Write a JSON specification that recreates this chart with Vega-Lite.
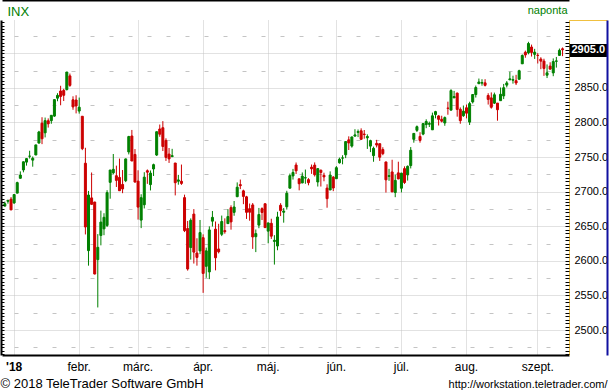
{
  "$schema": "https://vega.github.io/schema/vega-lite/v6.json",
  "width": 567,
  "height": 335,
  "autosize": {"type": "none"},
  "padding": {"left": 2, "top": 20, "right": 41, "bottom": 35},
  "background": "#ffffff",
  "config": {"view": {"stroke": null}, "font": "Liberation Sans", "axis": {"labelFont": "Liberation Sans", "titleFont": "Liberation Sans"}},
  "data": {"values": [
    {"d":"2017-12-27","o":2679.09,"h":2685.64,"l":2678.91,"c":2682.62},
    {"d":"2017-12-28","o":2686.10,"h":2687.66,"l":2682.69,"c":2687.54},
    {"d":"2017-12-29","o":2689.15,"h":2692.12,"l":2673.61,"c":2673.61},
    {"d":"2018-01-02","o":2683.73,"h":2695.89,"l":2682.36,"c":2695.81},
    {"d":"2018-01-03","o":2697.85,"h":2714.37,"l":2697.77,"c":2713.06},
    {"d":"2018-01-04","o":2719.31,"h":2729.29,"l":2719.07,"c":2723.99},
    {"d":"2018-01-05","o":2731.33,"h":2743.45,"l":2727.92,"c":2743.15},
    {"d":"2018-01-08","o":2742.67,"h":2748.51,"l":2737.60,"c":2747.71},
    {"d":"2018-01-09","o":2751.15,"h":2759.14,"l":2747.86,"c":2751.29},
    {"d":"2018-01-10","o":2745.55,"h":2750.80,"l":2736.06,"c":2748.23},
    {"d":"2018-01-11","o":2752.97,"h":2767.56,"l":2752.78,"c":2767.56},
    {"d":"2018-01-12","o":2770.18,"h":2787.85,"l":2769.64,"c":2786.24},
    {"d":"2018-01-16","o":2798.96,"h":2807.54,"l":2768.64,"c":2776.42},
    {"d":"2018-01-17","o":2784.99,"h":2807.04,"l":2778.38,"c":2802.56},
    {"d":"2018-01-18","o":2802.40,"h":2805.83,"l":2792.56,"c":2798.03},
    {"d":"2018-01-19","o":2802.60,"h":2810.33,"l":2798.08,"c":2810.30},
    {"d":"2018-01-22","o":2809.16,"h":2833.03,"l":2808.12,"c":2832.97},
    {"d":"2018-01-23","o":2835.05,"h":2842.24,"l":2830.59,"c":2839.13},
    {"d":"2018-01-24","o":2845.42,"h":2852.97,"l":2824.81,"c":2837.54},
    {"d":"2018-01-25","o":2846.24,"h":2848.56,"l":2830.94,"c":2839.25},
    {"d":"2018-01-26","o":2847.48,"h":2872.87,"l":2846.18,"c":2872.87},
    {"d":"2018-01-29","o":2867.23,"h":2870.62,"l":2851.48,"c":2853.53},
    {"d":"2018-01-30","o":2832.74,"h":2837.75,"l":2818.27,"c":2822.43},
    {"d":"2018-01-31","o":2832.41,"h":2839.26,"l":2813.04,"c":2823.81},
    {"d":"2018-02-01","o":2816.45,"h":2835.96,"l":2812.70,"c":2821.98},
    {"d":"2018-02-02","o":2808.92,"h":2808.92,"l":2759.97,"c":2762.13},
    {"d":"2018-02-05","o":2741.06,"h":2763.39,"l":2638.17,"c":2648.94},
    {"d":"2018-02-06","o":2614.78,"h":2701.04,"l":2593.07,"c":2695.14},
    {"d":"2018-02-07","o":2690.95,"h":2727.67,"l":2681.33,"c":2681.66},
    {"d":"2018-02-08","o":2685.01,"h":2685.27,"l":2580.56,"c":2581.00},
    {"d":"2018-02-09","o":2601.78,"h":2638.67,"l":2532.69,"c":2619.55},
    {"d":"2018-02-12","o":2636.75,"h":2672.61,"l":2622.45,"c":2656.00},
    {"d":"2018-02-13","o":2646.27,"h":2668.84,"l":2637.08,"c":2662.94},
    {"d":"2018-02-14","o":2651.21,"h":2702.10,"l":2648.87,"c":2698.63},
    {"d":"2018-02-15","o":2713.46,"h":2731.51,"l":2689.82,"c":2731.20},
    {"d":"2018-02-16","o":2727.14,"h":2754.42,"l":2725.11,"c":2732.22},
    {"d":"2018-02-20","o":2722.99,"h":2737.60,"l":2706.76,"c":2716.26},
    {"d":"2018-02-21","o":2720.53,"h":2747.75,"l":2701.29,"c":2701.33},
    {"d":"2018-02-22","o":2710.42,"h":2731.26,"l":2697.77,"c":2703.96},
    {"d":"2018-02-23","o":2715.80,"h":2747.76,"l":2713.74,"c":2747.30},
    {"d":"2018-02-26","o":2757.37,"h":2780.64,"l":2753.78,"c":2779.60},
    {"d":"2018-02-27","o":2780.45,"h":2789.15,"l":2744.22,"c":2744.28},
    {"d":"2018-02-28","o":2753.78,"h":2761.52,"l":2713.54,"c":2713.83},
    {"d":"2018-03-01","o":2715.22,"h":2730.89,"l":2659.65,"c":2677.67},
    {"d":"2018-03-02","o":2658.89,"h":2696.25,"l":2647.32,"c":2691.25},
    {"d":"2018-03-05","o":2681.06,"h":2728.09,"l":2675.75,"c":2720.94},
    {"d":"2018-03-06","o":2730.18,"h":2732.08,"l":2711.26,"c":2728.12},
    {"d":"2018-03-07","o":2710.18,"h":2730.60,"l":2701.74,"c":2726.80},
    {"d":"2018-03-08","o":2732.75,"h":2740.45,"l":2722.65,"c":2738.97},
    {"d":"2018-03-09","o":2752.91,"h":2786.57,"l":2751.54,"c":2786.57},
    {"d":"2018-03-12","o":2790.54,"h":2796.98,"l":2779.26,"c":2783.02},
    {"d":"2018-03-13","o":2792.31,"h":2801.90,"l":2758.68,"c":2765.31},
    {"d":"2018-03-14","o":2774.06,"h":2777.11,"l":2744.38,"c":2749.48},
    {"d":"2018-03-15","o":2754.27,"h":2763.03,"l":2741.47,"c":2747.33},
    {"d":"2018-03-16","o":2750.57,"h":2761.85,"l":2749.97,"c":2752.01},
    {"d":"2018-03-19","o":2741.38,"h":2741.38,"l":2694.59,"c":2712.92},
    {"d":"2018-03-20","o":2715.05,"h":2724.22,"l":2710.05,"c":2716.94},
    {"d":"2018-03-21","o":2714.99,"h":2739.14,"l":2709.79,"c":2711.93},
    {"d":"2018-03-22","o":2691.36,"h":2695.68,"l":2641.59,"c":2643.69},
    {"d":"2018-03-23","o":2646.71,"h":2657.67,"l":2585.89,"c":2588.26},
    {"d":"2018-03-26","o":2619.35,"h":2661.36,"l":2601.81,"c":2658.55},
    {"d":"2018-03-27","o":2667.57,"h":2674.78,"l":2596.12,"c":2612.62},
    {"d":"2018-03-28","o":2611.30,"h":2632.65,"l":2593.06,"c":2605.00},
    {"d":"2018-03-29","o":2614.41,"h":2659.07,"l":2609.72,"c":2640.87},
    {"d":"2018-04-02","o":2633.45,"h":2638.30,"l":2553.80,"c":2581.88},
    {"d":"2018-04-03","o":2592.17,"h":2619.14,"l":2575.49,"c":2614.45},
    {"d":"2018-04-04","o":2584.04,"h":2649.86,"l":2573.61,"c":2644.69},
    {"d":"2018-04-05","o":2657.36,"h":2672.08,"l":2649.58,"c":2662.84},
    {"d":"2018-04-06","o":2645.82,"h":2656.88,"l":2586.27,"c":2604.47},
    {"d":"2018-04-09","o":2617.18,"h":2653.55,"l":2610.79,"c":2613.16},
    {"d":"2018-04-10","o":2638.41,"h":2665.45,"l":2635.78,"c":2656.87},
    {"d":"2018-04-11","o":2643.69,"h":2661.43,"l":2639.25,"c":2642.19},
    {"d":"2018-04-12","o":2653.83,"h":2674.72,"l":2653.83,"c":2663.99},
    {"d":"2018-04-13","o":2676.90,"h":2680.26,"l":2645.05,"c":2656.30},
    {"d":"2018-04-16","o":2670.10,"h":2686.49,"l":2665.16,"c":2677.84},
    {"d":"2018-04-17","o":2692.74,"h":2713.34,"l":2692.05,"c":2706.39},
    {"d":"2018-04-18","o":2710.11,"h":2717.49,"l":2703.63,"c":2708.64},
    {"d":"2018-04-19","o":2701.16,"h":2702.84,"l":2681.90,"c":2693.13},
    {"d":"2018-04-20","o":2692.56,"h":2693.94,"l":2660.61,"c":2670.14},
    {"d":"2018-04-23","o":2675.40,"h":2682.86,"l":2657.99,"c":2670.29},
    {"d":"2018-04-24","o":2680.80,"h":2683.55,"l":2617.32,"c":2634.56},
    {"d":"2018-04-25","o":2634.92,"h":2645.30,"l":2612.67,"c":2639.40},
    {"d":"2018-04-26","o":2651.65,"h":2676.48,"l":2647.16,"c":2666.94},
    {"d":"2018-04-27","o":2675.47,"h":2677.35,"l":2659.01,"c":2669.91},
    {"d":"2018-04-30","o":2682.51,"h":2682.87,"l":2648.04,"c":2648.05},
    {"d":"2018-05-01","o":2642.96,"h":2655.27,"l":2625.41,"c":2654.80},
    {"d":"2018-05-02","o":2654.24,"h":2660.87,"l":2631.70,"c":2635.67},
    {"d":"2018-05-03","o":2628.08,"h":2637.14,"l":2594.62,"c":2629.73},
    {"d":"2018-05-04","o":2621.45,"h":2670.93,"l":2615.32,"c":2663.42},
    {"d":"2018-05-07","o":2680.34,"h":2683.35,"l":2664.70,"c":2672.63},
    {"d":"2018-05-08","o":2670.26,"h":2676.34,"l":2655.20,"c":2671.92},
    {"d":"2018-05-09","o":2678.12,"h":2701.27,"l":2674.14,"c":2697.79},
    {"d":"2018-05-10","o":2705.02,"h":2726.11,"l":2704.54,"c":2723.07},
    {"d":"2018-05-11","o":2722.70,"h":2732.86,"l":2717.45,"c":2727.72},
    {"d":"2018-05-14","o":2738.47,"h":2742.10,"l":2725.47,"c":2730.13},
    {"d":"2018-05-15","o":2718.59,"h":2718.59,"l":2701.91,"c":2711.45},
    {"d":"2018-05-16","o":2712.62,"h":2727.76,"l":2712.17,"c":2722.46},
    {"d":"2018-05-17","o":2719.71,"h":2731.96,"l":2711.36,"c":2720.13},
    {"d":"2018-05-18","o":2717.35,"h":2719.50,"l":2709.18,"c":2712.97},
    {"d":"2018-05-21","o":2735.39,"h":2739.19,"l":2725.70,"c":2733.01},
    {"d":"2018-05-22","o":2738.34,"h":2742.24,"l":2721.88,"c":2724.44},
    {"d":"2018-05-23","o":2713.98,"h":2733.33,"l":2707.38,"c":2733.29},
    {"d":"2018-05-24","o":2730.94,"h":2731.97,"l":2707.38,"c":2727.76},
    {"d":"2018-05-25","o":2723.60,"h":2727.36,"l":2714.99,"c":2721.33},
    {"d":"2018-05-29","o":2705.11,"h":2710.67,"l":2676.81,"c":2689.86},
    {"d":"2018-05-30","o":2702.43,"h":2729.34,"l":2702.43,"c":2724.01},
    {"d":"2018-05-31","o":2720.98,"h":2722.50,"l":2700.68,"c":2705.27},
    {"d":"2018-06-01","o":2718.70,"h":2736.93,"l":2718.70,"c":2734.62},
    {"d":"2018-06-04","o":2741.67,"h":2749.16,"l":2740.54,"c":2746.87},
    {"d":"2018-06-05","o":2748.46,"h":2752.61,"l":2739.51,"c":2748.80},
    {"d":"2018-06-06","o":2753.25,"h":2772.39,"l":2748.46,"c":2772.35},
    {"d":"2018-06-07","o":2774.84,"h":2779.90,"l":2760.16,"c":2770.37},
    {"d":"2018-06-08","o":2765.84,"h":2779.39,"l":2763.59,"c":2779.03},
    {"d":"2018-06-11","o":2780.18,"h":2790.21,"l":2780.17,"c":2782.00},
    {"d":"2018-06-12","o":2785.60,"h":2789.80,"l":2778.78,"c":2786.85},
    {"d":"2018-06-13","o":2787.94,"h":2791.47,"l":2774.65,"c":2775.63},
    {"d":"2018-06-14","o":2783.21,"h":2789.06,"l":2776.52,"c":2782.49},
    {"d":"2018-06-15","o":2777.78,"h":2782.81,"l":2761.73,"c":2779.66},
    {"d":"2018-06-18","o":2765.79,"h":2774.99,"l":2757.12,"c":2773.75},
    {"d":"2018-06-19","o":2752.01,"h":2765.05,"l":2743.19,"c":2762.59},
    {"d":"2018-06-20","o":2769.73,"h":2774.86,"l":2763.91,"c":2767.32},
    {"d":"2018-06-21","o":2769.28,"h":2769.28,"l":2744.39,"c":2749.76},
    {"d":"2018-06-22","o":2760.79,"h":2764.17,"l":2752.68,"c":2754.88},
    {"d":"2018-06-25","o":2742.94,"h":2742.94,"l":2698.67,"c":2717.07},
    {"d":"2018-06-26","o":2722.12,"h":2732.91,"l":2715.60,"c":2723.06},
    {"d":"2018-06-27","o":2728.45,"h":2746.09,"l":2699.38,"c":2699.63},
    {"d":"2018-06-28","o":2698.69,"h":2724.34,"l":2691.99,"c":2716.31},
    {"d":"2018-06-29","o":2727.13,"h":2743.26,"l":2718.03,"c":2718.37},
    {"d":"2018-07-02","o":2704.95,"h":2727.26,"l":2698.95,"c":2726.71},
    {"d":"2018-07-03","o":2733.27,"h":2736.58,"l":2711.16,"c":2713.22},
    {"d":"2018-07-05","o":2724.19,"h":2737.83,"l":2716.02,"c":2736.61},
    {"d":"2018-07-06","o":2737.68,"h":2764.41,"l":2733.52,"c":2759.82},
    {"d":"2018-07-09","o":2775.62,"h":2784.65,"l":2770.73,"c":2784.17},
    {"d":"2018-07-10","o":2788.56,"h":2795.58,"l":2786.24,"c":2793.84},
    {"d":"2018-07-11","o":2779.82,"h":2785.91,"l":2770.77,"c":2774.02},
    {"d":"2018-07-12","o":2783.14,"h":2799.22,"l":2781.53,"c":2798.29},
    {"d":"2018-07-13","o":2796.93,"h":2804.53,"l":2791.69,"c":2801.31},
    {"d":"2018-07-16","o":2797.36,"h":2801.19,"l":2793.39,"c":2798.43},
    {"d":"2018-07-17","o":2789.34,"h":2814.19,"l":2789.24,"c":2809.55},
    {"d":"2018-07-18","o":2811.35,"h":2816.76,"l":2805.89,"c":2815.62},
    {"d":"2018-07-19","o":2809.37,"h":2810.47,"l":2795.56,"c":2804.49},
    {"d":"2018-07-20","o":2804.55,"h":2809.70,"l":2800.01,"c":2801.83},
    {"d":"2018-07-23","o":2799.17,"h":2808.61,"l":2795.14,"c":2806.98},
    {"d":"2018-07-24","o":2820.68,"h":2829.99,"l":2811.12,"c":2820.40},
    {"d":"2018-07-25","o":2817.73,"h":2848.03,"l":2817.73,"c":2846.07},
    {"d":"2018-07-26","o":2835.49,"h":2845.57,"l":2835.26,"c":2837.44},
    {"d":"2018-07-27","o":2842.35,"h":2843.17,"l":2808.34,"c":2818.82},
    {"d":"2018-07-30","o":2819.00,"h":2821.74,"l":2798.11,"c":2802.60},
    {"d":"2018-07-31","o":2809.73,"h":2824.46,"l":2808.06,"c":2816.29},
    {"d":"2018-08-01","o":2821.17,"h":2825.83,"l":2805.85,"c":2813.36},
    {"d":"2018-08-02","o":2800.48,"h":2829.91,"l":2796.34,"c":2827.22},
    {"d":"2018-08-03","o":2829.62,"h":2840.38,"l":2827.37,"c":2840.35},
    {"d":"2018-08-06","o":2840.29,"h":2853.29,"l":2835.98,"c":2850.40},
    {"d":"2018-08-07","o":2855.92,"h":2863.43,"l":2855.92,"c":2858.45},
    {"d":"2018-08-08","o":2856.79,"h":2862.44,"l":2853.09,"c":2857.70},
    {"d":"2018-08-09","o":2857.19,"h":2862.48,"l":2851.98,"c":2853.58},
    {"d":"2018-08-10","o":2838.90,"h":2842.20,"l":2825.81,"c":2833.28},
    {"d":"2018-08-13","o":2835.46,"h":2843.40,"l":2819.88,"c":2821.93},
    {"d":"2018-08-14","o":2827.88,"h":2843.11,"l":2826.58,"c":2839.96},
    {"d":"2018-08-15","o":2827.95,"h":2827.95,"l":2802.49,"c":2818.37},
    {"d":"2018-08-16","o":2831.44,"h":2850.49,"l":2831.44,"c":2840.69},
    {"d":"2018-08-17","o":2838.32,"h":2855.63,"l":2833.73,"c":2850.13},
    {"d":"2018-08-20","o":2853.93,"h":2859.76,"l":2850.62,"c":2857.05},
    {"d":"2018-08-21","o":2861.51,"h":2873.23,"l":2861.32,"c":2862.96},
    {"d":"2018-08-22","o":2860.99,"h":2867.54,"l":2856.05,"c":2861.82},
    {"d":"2018-08-23","o":2860.29,"h":2868.78,"l":2854.03,"c":2856.98},
    {"d":"2018-08-24","o":2862.35,"h":2876.16,"l":2862.35,"c":2874.69},
    {"d":"2018-08-27","o":2884.69,"h":2898.25,"l":2884.69,"c":2896.74},
    {"d":"2018-08-28","o":2901.45,"h":2903.77,"l":2893.50,"c":2897.52},
    {"d":"2018-08-29","o":2900.62,"h":2916.50,"l":2898.40,"c":2914.04},
    {"d":"2018-08-30","o":2908.94,"h":2912.46,"l":2895.22,"c":2901.13},
    {"d":"2018-08-31","o":2898.37,"h":2906.32,"l":2891.73,"c":2901.52},
    {"d":"2018-09-04","o":2896.96,"h":2900.18,"l":2885.13,"c":2896.72},
    {"d":"2018-09-05","o":2891.59,"h":2894.21,"l":2876.92,"c":2888.60},
    {"d":"2018-09-06","o":2888.64,"h":2892.05,"l":2867.29,"c":2878.05},
    {"d":"2018-09-07","o":2868.26,"h":2883.81,"l":2864.12,"c":2871.68},
    {"d":"2018-09-10","o":2881.39,"h":2886.93,"l":2875.94,"c":2877.13},
    {"d":"2018-09-11","o":2871.57,"h":2892.52,"l":2866.78,"c":2887.89},
    {"d":"2018-09-12","o":2888.29,"h":2894.65,"l":2879.20,"c":2888.92},
    {"d":"2018-09-13","o":2896.85,"h":2906.76,"l":2896.39,"c":2904.18},
    {"d":"2018-09-14","o":2906.38,"h":2908.30,"l":2895.77,"c":2904.98}
  ]},
  "layer": [
    {
      "mark": {"type": "rule", "strokeWidth": 1},
      "encoding": {
        "x": {
          "field": "d", "type": "ordinal",
          "scale": {"type": "band", "paddingInner": 0, "paddingOuter": 4, "align": 0.2083},
          "axis": {
            "orient": "bottom",
            "values": ["2018-01-02", "2018-02-01", "2018-03-01", "2018-04-02", "2018-05-01", "2018-06-01", "2018-07-02", "2018-08-01", "2018-09-04"],
            "bandPosition": 0.5,
            "labelExpr": "[\"\", \"'18\", \"febr.\", \"márc.\", \"ápr.\", \"máj.\", \"jún.\", \"júl.\", \"aug.\", \"szept.\"][toNumber(slice(datum.value, 5, 7))]",
            "labelAngle": 0,
            "labelFontSize": 12,
            "labelColor": "#000000",
            "labelPadding": 6,
            "labelBaseline": "top",
            "labelOverlap": false,
            "labelFontWeight": {"condition": {"test": "datum.value == '2018-01-02'", "value": "bold"}, "value": "normal"},
            "ticks": false,
            "domain": true, "domainColor": "#000000", "domainWidth": 2,
            "grid": true, "gridColor": "#c4c4c4", "gridDash": [1, 1],
            "title": "© 2018 TeleTrader Software GmbH",
            "titleX": -2, "titleY": 32, "titleAlign": "left", "titleBaseline": "alphabetic",
            "titleFontSize": 13, "titleFontWeight": "normal", "titleColor": "#000000", "titleLimit": 1000,
            "zindex": 0
          }
        },
        "y": {
          "field": "l", "type": "quantitative",
          "scale": {"domain": [2464, 2948], "nice": false, "zero": false},
          "axis": {
            "orient": "right",
            "values": [2475, 2500, 2525, 2550, 2575, 2600, 2625, 2650, 2675, 2700, 2725, 2750, 2775, 2800, 2825, 2850, 2875, 2900, 2925],
            "labelExpr": "datum.value % 50 == 0 && datum.value < 2900 ? format(datum.value, '.1f') : ''",
            "labelFontSize": 11, "labelColor": "#000000", "labelPadding": 5,
            "labelAlign": "left", "labelBaseline": "middle", "labelOverlap": false,
            "ticks": false,
            "domain": true, "domainColor": "#f0c040", "domainWidth": 1,
            "grid": true, "gridColor": "#c4c4c4",
            "gridDash": {"condition": {"test": "datum.value % 50 == 0", "value": [1, 1]}, "value": [4, 15]},
            "title": "http://workstation.teletrader.com/",
            "titleAngle": 0, "titleX": 38, "titleY": 367, "titleAlign": "right", "titleBaseline": "alphabetic",
            "titleFontSize": 11, "titleFontWeight": "normal", "titleColor": "#000000", "titleLimit": 1000,
            "zindex": 0
          }
        },
        "y2": {"field": "h"},
        "stroke": {"condition": {"test": "datum.c >= datum.o", "value": "#008000"}, "value": "#cc0000"}
      }
    },
    {
      "mark": {"type": "bar", "size": 2, "strokeWidth": 1},
      "encoding": {
        "x": {
          "field": "d", "type": "ordinal",
          "scale": {"type": "band", "paddingInner": 0, "paddingOuter": 4, "align": 0.2083},
          "axis": {
            "orient": "top", "offset": 20,
            "labels": false, "ticks": false, "grid": false,
            "domain": true, "domainColor": "#000000", "domainWidth": 2,
            "title": "naponta",
            "titleX": 565, "titleY": 13.5, "titleAlign": "right", "titleBaseline": "alphabetic",
            "titleColor": "#008000", "titleFontSize": 11, "titleFontWeight": "normal", "titleLimit": 1000,
            "zindex": 1
          }
        },
        "y": {
          "field": "o", "type": "quantitative",
          "scale": {"domain": [2464, 2948], "nice": false, "zero": false},
          "axis": {
            "orient": "left", "offset": 1,
            "values": [2465, 2470, 2475, 2480, 2485, 2490, 2495, 2500, 2505, 2510, 2515, 2520, 2525, 2530, 2535, 2540, 2545, 2550, 2555, 2560, 2565, 2570, 2575, 2580, 2585, 2590, 2595, 2600, 2605, 2610, 2615, 2620, 2625, 2630, 2635, 2640, 2645, 2650, 2655, 2660, 2665, 2670, 2675, 2680, 2685, 2690, 2695, 2700, 2705, 2710, 2715, 2720, 2725, 2730, 2735, 2740, 2745, 2750, 2755, 2760, 2765, 2770, 2775, 2780, 2785, 2790, 2795, 2800, 2805, 2810, 2815, 2820, 2825, 2830, 2835, 2840, 2845, 2850, 2855, 2860, 2865, 2870, 2875, 2880, 2885, 2890, 2895, 2900, 2905, 2910, 2915, 2920, 2925, 2930, 2935, 2940, 2945, 2962.5],
            "labels": false, "grid": false,
            "domain": true, "domainColor": "#000000", "domainWidth": 2,
            "ticks": true,
            "tickSize": {"condition": {"test": "datum.value > 2950", "value": -4.5}, "value": -3},
            "tickWidth": {"condition": {"test": "datum.value > 2950", "value": 19}, "value": 1},
            "tickColor": {"condition": {"test": "datum.value > 2950", "value": "#f5a000"}, "value": "#000000"},
            "title": "INX",
            "titleAngle": 0, "titleX": 6, "titleY": -4.5, "titleAlign": "left", "titleBaseline": "alphabetic",
            "titleColor": "#008000", "titleFontSize": 13, "titleFontWeight": "normal",
            "zindex": 1
          }
        },
        "y2": {"field": "c"},
        "fill": {"condition": {"test": "datum.c >= datum.o", "value": "#008000"}, "value": "#cc0000"},
        "stroke": {"condition": {"test": "datum.c >= datum.o", "value": "#008000"}, "value": "#cc0000"}
      }
    },
    {
      "mark": {"type": "rule", "opacity": 0},
      "encoding": {
        "y": {
          "field": "c", "type": "quantitative",
          "scale": {"domain": [2464, 2948], "nice": false, "zero": false},
          "axis": {
            "orient": "right",
            "values": [2465, 2470, 2475, 2480, 2485, 2490, 2495, 2500, 2505, 2510, 2515, 2520, 2525, 2530, 2535, 2540, 2545, 2550, 2555, 2560, 2565, 2570, 2575, 2580, 2585, 2590, 2595, 2600, 2605, 2610, 2615, 2620, 2625, 2630, 2635, 2640, 2645, 2650, 2655, 2660, 2665, 2670, 2675, 2680, 2685, 2690, 2695, 2700, 2705, 2710, 2715, 2720, 2725, 2730, 2735, 2740, 2745, 2750, 2755, 2760, 2765, 2770, 2775, 2780, 2785, 2790, 2795, 2800, 2805, 2810, 2815, 2820, 2825, 2830, 2835, 2840, 2845, 2850, 2855, 2860, 2865, 2870, 2875, 2880, 2885, 2890, 2895, 2900, 2905, 2910, 2915, 2920, 2925, 2930, 2935, 2940, 2945],
            "labels": false, "grid": false, "domain": false,
            "ticks": true, "tickSize": -4, "tickColor": "#000000", "tickWidth": 1,
            "title": null, "zindex": 1
          }
        }
      }
    },
    {
      "mark": {"type": "rule", "opacity": 0},
      "encoding": {
        "y": {
          "field": "c", "type": "quantitative",
          "scale": {"domain": [2464, 2948], "nice": false, "zero": false},
          "axis": {
            "orient": "right",
            "values": [2904.98, 2948],
            "grid": false, "domain": false,
            "ticks": true, "tickSize": 38,
            "tickWidth": {"condition": {"test": "datum.value > 2940", "value": 1}, "value": 13},
            "tickColor": {"condition": {"test": "datum.value > 2940", "value": "#f0c040"}, "value": "#000000"},
            "labels": true,
            "labelExpr": "datum.value > 2940 ? '' : format(datum.value, '.1f')",
            "labelColor": "#ffffff", "labelFontSize": 11, "labelFontWeight": "bold",
            "labelPadding": -36, "labelAlign": "left", "labelBaseline": "middle", "labelOverlap": false,
            "title": null, "zindex": 2
          }
        }
      }
    },
    {
      "mark": {"type": "rule", "opacity": 0},
      "encoding": {
        "y": {
          "field": "c", "type": "quantitative",
          "scale": {"domain": [2464, 2948], "nice": false, "zero": false},
          "axis": {
            "orient": "right", "offset": 38,
            "domain": true, "domainColor": "#1010a0", "domainWidth": 2,
            "ticks": false, "labels": false, "grid": false,
            "title": null, "zindex": 2
          }
        }
      }
    }
  ],
  "resolve": {"axis": {"x": "independent", "y": "independent"}}
}
